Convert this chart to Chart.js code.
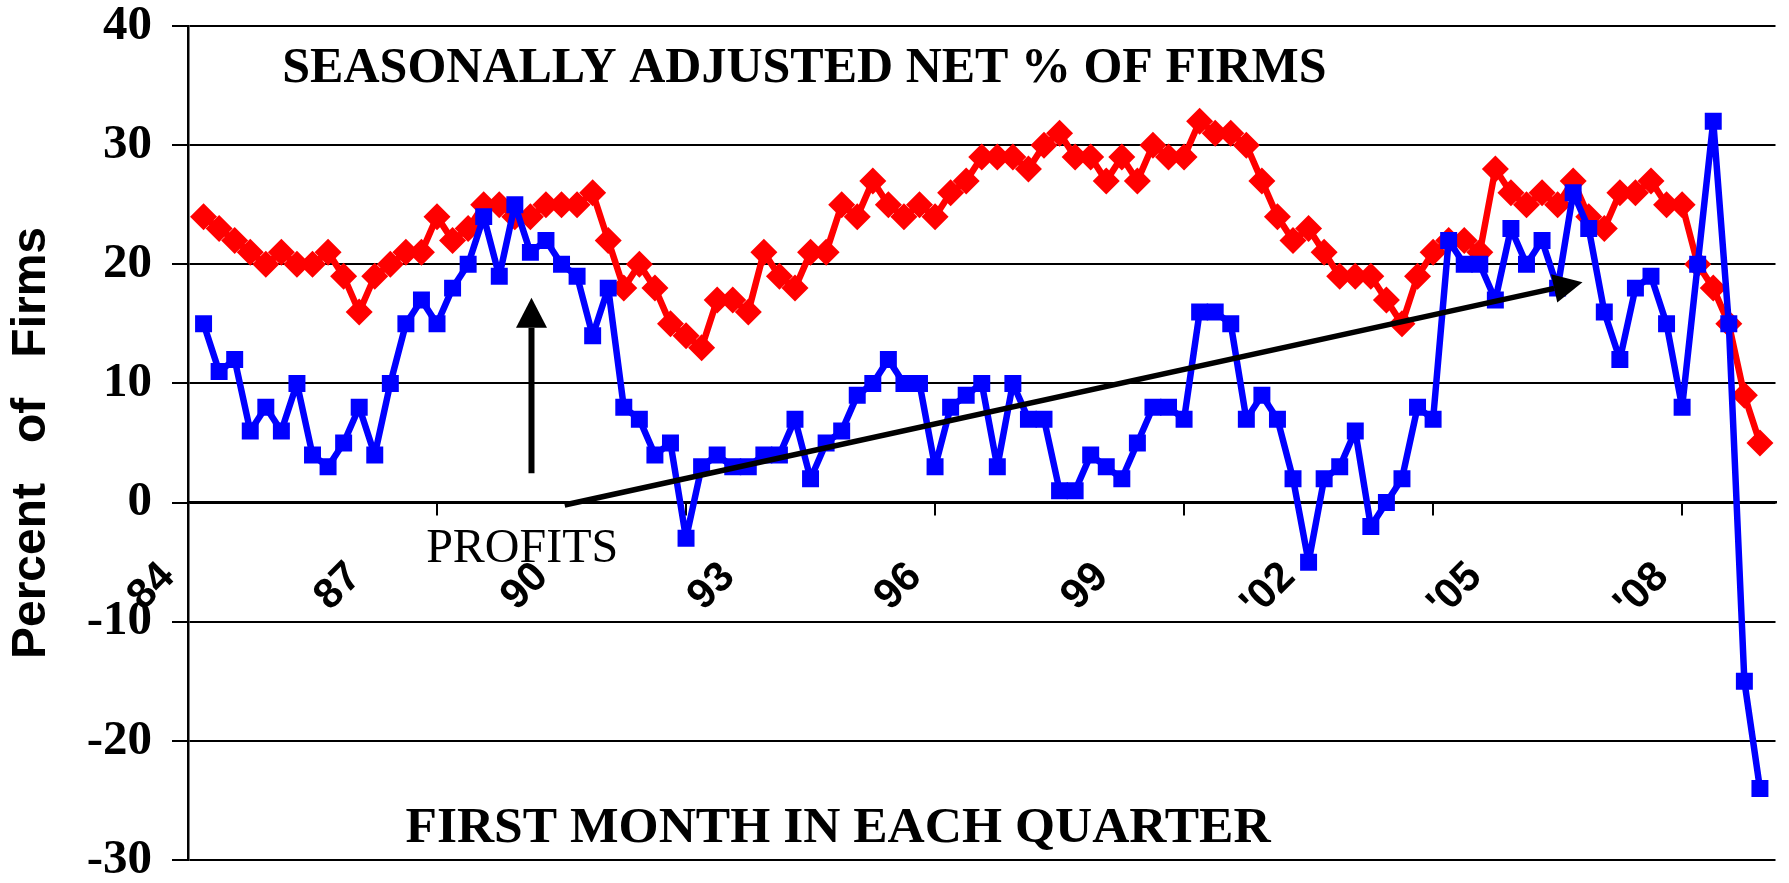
<!DOCTYPE html>
<html>
<head>
<meta charset="utf-8">
<script src="https://cdn.jsdelivr.net/npm/chart.js@4/dist/chart.umd.min.js"></script>
<style>
  html, body { margin: 0; padding: 0; background: #fff; }
  #wrap { width: 1789px; height: 883px; }
</style>
</head>
<body>
<div id="wrap"><canvas id="chart" width="1789" height="883"></canvas></div>
<script>
// tick labels, one every 12 quarters
const yearTicks = ['84', '87', '90', '93', '96', '99', "'02", "'05", "'08"];

// quarters Jan 84 .. Jul 09 (first month in each quarter)
const quarterMonths = ['Jan', 'Apr', 'Jul', 'Oct'];
const quarters = [];
for (let y = 1984; y <= 2009; y++) {
  quarterMonths.forEach(m => quarters.push(m + ' ' + String(y).slice(2)));
}
quarters.length = 103;

// blue series (squares), Apr 84 .. Apr 09
const profits = [null,
  15, 11, 12, 6, 8, 6, 10, 4, 3, 5, 8, 4, 10, 15, 17, 15, 18, 20, 24, 19, 25, 21, 22, 20, 19,
  14, 18, 8, 7, 4, 5, -3, 3, 4, 3, 3, 4, 4, 7, 2, 5, 6, 9, 10, 12, 10, 10, 3, 8, 9,
  10, 3, 10, 7, 7, 1, 1, 4, 3, 2, 5, 8, 8, 7, 16, 16, 15, 7, 9, 7, 2, -5, 2, 3, 6,
  -2, 0, 2, 8, 7, 22, 20, 20, 17, 23, 20, 22, 18, 26, 23, 16, 12, 18, 19, 15, 8, 20, 32, 15, -15, -24,
  null];

// red series (diamonds)
const redSeries = [null,
  24, 23, 22, 21, 20, 21, 20, 20, 21, 19, 16, 19, 20, 21, 21, 24, 22, 23, 25, 25, 24, 24, 25, 25, 25,
  26, 22, 18, 20, 18, 15, 14, 13, 17, 17, 16, 21, 19, 18, 21, 21, 25, 24, 27, 25, 24, 25, 24, 26, 27,
  29, 29, 29, 28, 30, 31, 29, 29, 27, 29, 27, 30, 29, 29, 32, 31, 31, 30, 27, 24, 22, 23, 21, 19, 19,
  19, 17, 15, 19, 21, 22, 22, 21, 28, 26, 25, 26, 25, 27, 24, 23, 26, 26, 27, 25, 25, 20, 18, 15, 9, 5,
  null];

// annotations, in data units (x = quarter index, y = percent)
const upArrow = { x: 22.07, from: 2.46, to: 17.2 };
const trendArrow = { x0: 24.2, y0: -0.2, x1: 89.6, y1: 18.5 };
const notes = [
  { text: 'SEASONALLY ADJUSTED NET % OF FIRMS', x: 6.06, y: 35.3, font: 'bold 50px "Liberation Serif"' },
  { text: 'FIRST MONTH IN EACH QUARTER', x: 13.97, y: -28.5, font: 'bold 51.5px "Liberation Serif"' },
  { text: 'PROFITS', x: 15.3, y: -4.99, font: '48px "Liberation Serif"' }
];

function drawArrow(ctx, x0, y0, x1, y1, lineW, headLen, headHalf) {
  const ang = Math.atan2(y1 - y0, x1 - x0);
  const bx = x1 - headLen * Math.cos(ang);
  const by = y1 - headLen * Math.sin(ang);
  ctx.lineWidth = lineW;
  ctx.beginPath();
  ctx.moveTo(x0, y0);
  ctx.lineTo(bx, by);
  ctx.stroke();
  ctx.beginPath();
  ctx.moveTo(x1, y1);
  ctx.lineTo(bx + headHalf * Math.sin(ang), by - headHalf * Math.cos(ang));
  ctx.lineTo(bx - headHalf * Math.sin(ang), by + headHalf * Math.cos(ang));
  ctx.closePath();
  ctx.fill();
}

const annotations = {
  id: 'annotations',
  afterDatasetsDraw(chart) {
    const { ctx, scales: { x, y } } = chart;
    ctx.save();
    ctx.fillStyle = '#000';
    ctx.strokeStyle = '#000';
    ctx.lineCap = 'butt';
    drawArrow(ctx, x.getPixelForValue(upArrow.x), y.getPixelForValue(upArrow.from),
      x.getPixelForValue(upArrow.x), y.getPixelForValue(upArrow.to), 6, 30, 15.5);
    drawArrow(ctx, x.getPixelForValue(trendArrow.x0), y.getPixelForValue(trendArrow.y0),
      x.getPixelForValue(trendArrow.x1), y.getPixelForValue(trendArrow.y1), 5.5, 29, 14.5);
    ctx.textAlign = 'left';
    ctx.textBaseline = 'alphabetic';
    notes.forEach(n => {
      ctx.font = n.font;
      ctx.fillText(n.text, x.getPixelForValue(n.x), y.getPixelForValue(n.y));
    });
    ctx.restore();
  }
};

new Chart(document.getElementById('chart'), {
  type: 'line',
  data: {
    labels: quarters,
    datasets: [
      {
        label: 'Profits',
        data: profits,
        borderColor: '#0000ff',
        backgroundColor: '#0000ff',
        borderWidth: 6.5,
        borderJoinStyle: 'round',
        pointStyle: 'rect',
        pointRadius: 12,
        pointBorderWidth: 0,
        tension: 0,
        order: 0
      },
      {
        label: 'Net %',
        data: redSeries,
        borderColor: '#ff0000',
        backgroundColor: '#ff0000',
        borderWidth: 6.5,
        borderJoinStyle: 'round',
        pointStyle: 'rectRot',
        pointRadius: 13.5,
        pointBorderWidth: 0,
        tension: 0,
        order: 1
      }
    ]
  },
  options: {
    responsive: false,
    animation: false,
    devicePixelRatio: 1,
    layout: { padding: { top: 26, bottom: 23, left: 0, right: 7 } },
    plugins: { legend: { display: false }, tooltip: { enabled: false } },
    scales: {
      x: {
        type: 'category',
        position: { y: 0 },
        offset: false,
        ticks: {
          autoSkip: false,
          minRotation: 45,
          maxRotation: 45,
          padding: 38,
          labelOffset: -20,
          color: '#000',
          font: { family: 'Liberation Sans', weight: 'bold', size: 42 },
          callback: (v, i) => {
            if (i % 12 === 0 && i / 12 < yearTicks.length) return yearTicks[i / 12];
            return i % 4 === 0 ? '' : null;
          }
        },
        grid: {
          drawOnChartArea: false,
          tickLength: 12,
          lineWidth: 2,
          color: c => c.index % 4 === 0 ? '#000' : 'rgba(0,0,0,0)',
          tickColor: c => c.index % 4 === 0 ? '#000' : 'rgba(0,0,0,0)'
        },
        border: { color: '#000', width: 2.5 },
        afterFit: s => { s.paddingLeft = 0; s.paddingRight = 0; }
      },
      y: {
        min: -30,
        max: 40,
        ticks: {
          stepSize: 10,
          padding: 20,
          color: '#000',
          font: { family: 'Liberation Serif', weight: 'bold', size: 49 }
        },
        grid: { color: '#000', lineWidth: 2, tickLength: 16 },
        border: { color: '#000', width: 2.5 },
        title: {
          display: true,
          text: 'Percent   of   Firms',
          color: '#000',
          font: { family: 'Liberation Sans', weight: 'bold', size: 48 },
          padding: { top: 3, bottom: 0 }
        },
        afterFit: s => { s.width = 188; s.paddingTop = 0; s.paddingBottom = 0; }
      }
    }
  },
  plugins: [annotations]
});
</script>
</body>
</html>
